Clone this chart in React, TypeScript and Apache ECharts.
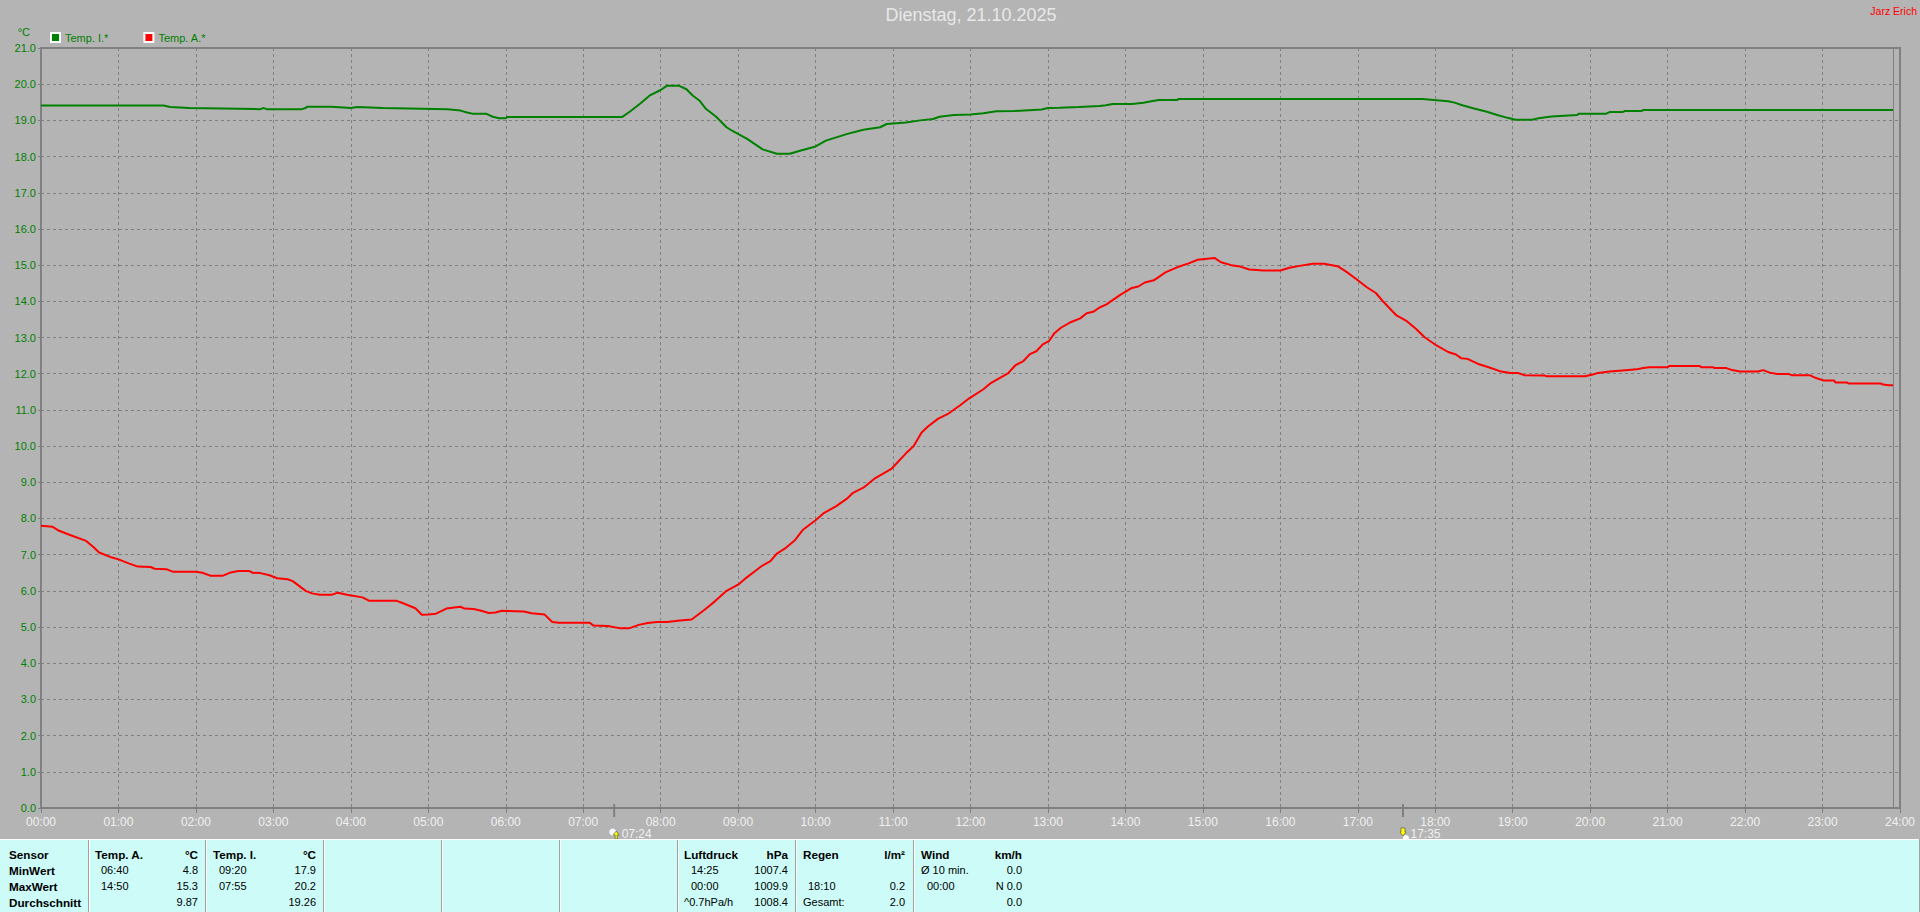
import React, { useEffect, useRef } from "react";
import * as echarts from "echarts";

const titleText = "Dienstag, 21.10.2025";
const ownerText = "Jarz Erich";
const innerName = "Temp. I.*";
const outerName = "Temp. A.*";

// minutes since midnight, degrees Celsius
const innerMinutes = [0,95,100,115,170,172,175,202,205,206,225,240,245,265,315,325,330,335,345,350,355,360,361,
  450,456,464,472,480,485,494,500,505,510,515,523,531,536,547,559,570,580,588,600,608,624,637,650,655,670,681,691,696,707,720,730,740,754,775,780,789,804,820,
  825,830,845,854,860,866,880,881,1070,1079,1090,1095,1101,1110,1120,1128,1136,1142,1155,1160,1170,1180,1190,1191,1212,1215,1225,1227,1240,1241,1435];
const innerValues = [19.41,19.41,19.37,19.34,19.31,19.34,19.31,19.31,19.34,19.38,19.38,19.34,19.37,19.34,19.31,19.27,19.22,19.18,19.18,19.1,19.06,19.06,19.09,
  19.09,19.24,19.46,19.7,19.84,19.96,19.96,19.86,19.68,19.55,19.32,19.1,18.81,18.7,18.49,18.2,18.08,18.08,18.16,18.28,18.44,18.62,18.74,18.81,18.9,18.94,19.0,19.04,19.1,19.15,19.16,19.2,19.25,19.26,19.3,19.34,19.35,19.37,19.4,
  19.42,19.45,19.45,19.49,19.53,19.56,19.56,19.59,19.59,19.56,19.53,19.49,19.42,19.33,19.24,19.15,19.07,19.02,19.02,19.06,19.11,19.13,19.15,19.18,19.18,19.23,19.23,19.26,19.26,19.29,19.29];

const outerMinutes = [0,9,14,22,35,41,45,55,60,68,75,85,88,97,102,120,125,131,141,147,153,161,164,170,177,183,191,195,205,210,216,225,230,237,249,254,275,281,290,295,300,306,314,325,328,335,341,347,352,357,374,380,390,396,401,425,428,439,448,456,463,470,477,485,
  495,504,514,522,531,540,547,554,558,565,570,577,584,590,600,606,616,624,629,637,646,659,670,676,682,687,695,703,712,719,730,736,749,755,761,766,771,776,781,785,790,798,805,810,815,820,
  825,836,845,850,855,862,871,880,889,896,909,914,922,929,936,947,960,967,975,985,994,1005,1011,1019,1027,1034,1040,1050,1058,1065,1072,1081,1090,1096,1100,1105,1114,
  1122,1130,1138,1144,1149,1165,1166,1196,1202,1205,1215,1225,1236,1241,1246,1260,1261,1285,1286,1295,1296,1305,1310,1316,1330,1334,1339,1345,1354,1356,1370,1375,1381,1389,1390,1399,1400,1425,1427,1431,1435];
const outerValues = [7.8,7.77,7.66,7.55,7.38,7.2,7.06,6.92,6.87,6.76,6.67,6.66,6.61,6.6,6.53,6.53,6.5,6.42,6.42,6.51,6.55,6.55,6.5,6.49,6.43,6.35,6.32,6.27,6.0,5.93,5.89,5.89,5.95,5.89,5.82,5.73,5.73,5.65,5.52,5.34,5.35,5.37,5.51,5.56,5.51,5.5,5.45,5.39,5.4,5.45,5.43,5.38,5.35,5.14,5.12,5.12,5.04,5.03,4.97,4.97,5.06,5.11,5.14,5.14,
  5.18,5.21,5.48,5.71,6.0,6.17,6.38,6.57,6.68,6.82,7.03,7.19,7.4,7.68,7.95,8.14,8.34,8.54,8.71,8.85,9.11,9.38,9.8,10.0,10.37,10.54,10.76,10.9,11.13,11.32,11.57,11.75,12.01,12.24,12.35,12.54,12.62,12.81,12.91,13.12,13.27,13.43,13.53,13.67,13.71,13.83,
  13.91,14.18,14.37,14.41,14.52,14.58,14.8,14.94,15.05,15.15,15.2,15.08,15.0,14.96,14.88,14.85,14.85,14.93,14.98,15.04,15.04,14.96,14.82,14.61,14.39,14.23,13.98,13.61,13.45,13.24,13.0,12.78,12.6,12.53,12.43,12.41,12.26,
  12.17,12.07,12.02,12.02,11.96,11.95,11.93,11.93,11.98,12.01,12.06,12.09,12.12,12.16,12.18,12.18,12.21,12.21,12.18,12.18,12.16,12.16,12.1,12.06,12.06,12.1,12.03,11.99,11.99,11.96,11.96,11.88,11.81,11.81,11.76,11.76,11.73,11.73,11.7,11.68,11.68];

const sunEvents = [
  { minute: 444, label: "07:24", kind: "rise" },
  { minute: 1055, label: "17:35", kind: "set" },
];
const lastSampleMinute = 1435;

const panelSeparators = [88, 205, 323, 441, 559, 677, 795, 913];
const panelRows = [854, 870, 886, 902];
const rowLabels = ["Sensor", "MinWert", "MaxWert", "Durchschnitt"];
const tempOuterCells = [["06:40", "4.8"], ["14:50", "15.3"], ["", "9.87"]];
const tempInnerCells = [["09:20", "17.9"], ["07:55", "20.2"], ["", "19.26"]];
const pressureCells = [["14:25", "1007.4"], ["00:00", "1009.9"], ["^0.7hPa/h", "1008.4"]];
const rainCells = [["", ""], ["18:10", "0.2"], ["Gesamt:", "2.0"]];
const windCells = [["Ø 10 min.", "0.0"], ["00:00", "N 0.0"], ["", "0.0"]];

const FONT = '"Liberation Sans", Arial, sans-serif';
const BG = "#b4b4b4";
const PANEL = "#ccfbf8";
const GREY = "#808080";

const zip = (a: number[], b: number[]) => a.map((x, i) => [x, b[i]]);
const pad = (n: number) => String(n).padStart(2, "0");

function text(t: string, x: number, y: number, align: string, bold: boolean, fill = "#000", size = bold ? 11.7 : 11) {
  return {
    type: "text",
    z: 20,
    silent: true,
    style: {
      text: t,
      x,
      y,
      align,
      verticalAlign: "middle",
      fill,
      font: `${bold ? "bold " : ""}${size}px ${FONT}`,
    },
  };
}

function column(title: string, unit: string, left: number, indent: number, right: number, cells: string[][]) {
  const out: any[] = [
    text(title, left, panelRows[0], "left", true),
    text(unit, right, panelRows[0], "right", true),
  ];
  cells.forEach((row, i) => {
    const y = panelRows[i + 1];
    if (row[0]) {
      const flush = row[0].startsWith("^") || row[0].startsWith("Gesamt") || row[0].startsWith("Ø");
      out.push(text(row[0], flush ? left : indent, y, "left", false));
    }
    if (row[1]) out.push(text(row[1], right, y, "right", false));
  });
  return out;
}

function panelGraphics() {
  const out: any[] = [
    { type: "rect", z: 10, silent: true, shape: { x: 0, y: 839, width: 1920, height: 73 }, style: { fill: PANEL } },
    { type: "rect", z: 11, silent: true, shape: { x: 0, y: 839, width: 1920, height: 1 }, style: { fill: "#ffffff" } },
    { type: "rect", z: 11, silent: true, shape: { x: 1919, y: 839, width: 1, height: 73 }, style: { fill: "#a0a0a0" } },
  ];
  panelSeparators.forEach((x) => {
    out.push({ type: "rect", z: 11, silent: true, shape: { x, y: 840, width: 1, height: 72 }, style: { fill: "#a0a0a0" } });
    out.push({ type: "rect", z: 11, silent: true, shape: { x: x + 1, y: 840, width: 1, height: 72 }, style: { fill: "#ffffff" } });
  });
  rowLabels.forEach((t, i) => out.push(text(t, 9, panelRows[i], "left", true)));
  out.push(...column("Temp. A.", "°C", 95, 101, 198, tempOuterCells));
  out.push(...column("Temp. I.", "°C", 213, 219, 316, tempInnerCells));
  out.push(...column("Luftdruck", "hPa", 684, 691, 788, pressureCells));
  out.push(...column("Regen", "l/m²", 803, 808, 905, rainCells));
  out.push(...column("Wind", "km/h", 921, 927, 1022, windCells));
  return out;
}

function sunGraphics(chart: any) {
  const out: any[] = [];
  sunEvents.forEach((e) => {
    const x = chart.convertToPixel({ xAxisIndex: 0 }, e.minute);
    out.push({ type: "rect", z: 8, silent: true, shape: { x: x - 1, y: 804, width: 2, height: 13 }, style: { fill: GREY } });
    if (e.kind === "rise") {
      out.push({ type: "circle", z: 8, silent: true, shape: { cx: x - 1.5, cy: 832, r: 3.5 }, style: { fill: "#f4f4ff" } });
      out.push({ type: "polygon", z: 9, silent: true, shape: { points: [[x + 2, 831], [x + 5, 835], [x + 3, 835], [x + 3, 839], [x + 1, 839], [x + 1, 835], [x - 1, 835]] }, style: { fill: "#ffff00", stroke: "#333", lineWidth: 0.5 } });
      out.push(text(e.label, x + 7.5, 834, "left", false, "#f0f0f0", 12));
    } else {
      out.push({ type: "circle", z: 8, silent: true, shape: { cx: x + 3, cy: 838, r: 3 }, style: { fill: "#ffffff" } });
      out.push({ type: "polygon", z: 9, silent: true, shape: { points: [[x - 2, 828], [x + 2, 828], [x + 2, 832], [x + 3, 832], [x, 836], [x - 3, 832], [x - 2, 832]] }, style: { fill: "#ffff00", stroke: "#333", lineWidth: 0.5 } });
      out.push(text(e.label, x + 7.5, 834, "left", false, "#f0f0f0", 12));
    }
  });
  return out;
}

export default function App() {
  const ref = useRef<HTMLDivElement>(null);
  useEffect(() => {
    document.body.style.margin = "0";
    document.body.style.overflow = "hidden";
    const chart = echarts.init(ref.current!, undefined, { renderer: "svg" });
    const option: any = {
      animation: false,
      backgroundColor: BG,
      title: {
        text: titleText,
        left: 966,
        top: 1,
        textAlign: "center",
        textStyle: { color: "#e8e8e8", fontFamily: FONT, fontSize: 18, fontWeight: "normal" },
      },
      legend: {
        left: 45,
        top: 27,
        itemWidth: 9,
        itemHeight: 9,
        itemGap: 35,
        icon: "rect",
        data: [innerName, outerName],
        selectedMode: false,
        textStyle: { color: "#008000", fontFamily: FONT, fontSize: 11 },
      },
      grid: { left: 41, top: 48, width: 1859, height: 760, show: true, borderColor: GREY, borderWidth: 2, backgroundColor: "transparent" },
      xAxis: {
        type: "value",
        min: 0,
        max: 1440,
        interval: 60,
        axisLine: { show: true, lineStyle: { color: GREY, width: 2 } },
        axisTick: { show: true, length: 5, lineStyle: { color: GREY, width: 1 } },
        axisLabel: {
          color: "#f0f0f0",
          fontFamily: FONT,
          fontSize: 12,
          margin: 8,
          formatter: (v: number) => `${pad(v / 60)}:00`,
        },
        splitLine: { show: true, lineStyle: { color: GREY, type: [3, 3], width: 1 } },
      },
      yAxis: {
        type: "value",
        min: 0,
        max: 21,
        interval: 1,
        name: "°C",
        nameLocation: "end",
        nameGap: 11,
        nameTextStyle: { color: "#008000", fontFamily: FONT, fontSize: 11, align: "right", padding: [0, 11, 0, 0] },
        axisLine: { show: true, lineStyle: { color: GREY, width: 2 } },
        axisTick: { show: true, length: 3, lineStyle: { color: GREY, width: 1 } },
        axisLabel: {
          color: "#008000",
          fontFamily: FONT,
          fontSize: 11,
          margin: 5,
          formatter: (v: number) => v.toFixed(1),
        },
        splitLine: { show: true, lineStyle: { color: GREY, type: [3, 3], width: 1 } },
      },
      series: [
        {
          name: innerName,
          type: "line",
          data: zip(innerMinutes, innerValues),
          symbol: "none",
          color: "#008000",
          itemStyle: { color: "#008000", borderColor: "#ffffff", borderWidth: 1 },
          lineStyle: { color: "#008000", width: 2 },
          markLine: {
            silent: true,
            symbol: "none",
            label: { show: false },
            lineStyle: { color: GREY, type: "solid", width: 1 },
            data: [{ xAxis: lastSampleMinute }],
          },
        },
        {
          name: outerName,
          type: "line",
          data: zip(outerMinutes, outerValues),
          symbol: "none",
          color: "#ff0000",
          itemStyle: { color: "#ff0000", borderColor: "#ffffff", borderWidth: 1 },
          lineStyle: { color: "#ff0000", width: 2 },
        },
      ],
    };
    chart.setOption(option);
    chart.setOption({
      graphic: [
        ...sunGraphics(chart),
        ...panelGraphics(),
        text(ownerText, 1917, 11, "right", false, "#ff0000", 10.5),
      ],
    });
    return () => chart.dispose();
  }, []);
  return <div ref={ref} style={{ width: 1920, height: 912 }} />;
}
